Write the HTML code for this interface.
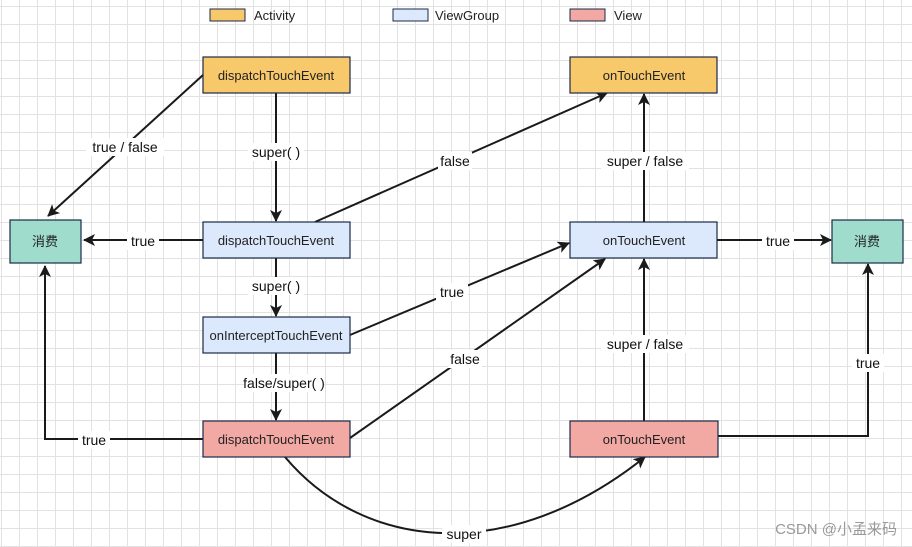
<!DOCTYPE html>
<html><head><meta charset="utf-8"><style>
html,body{margin:0;padding:0}
body{width:912px;height:547px;overflow:hidden;background-color:#fff;
background-image:linear-gradient(to right,#e2e2e2 1px,transparent 1px),linear-gradient(to bottom,#e2e2e2 1px,transparent 1px);
background-size:18px 18px;background-position:1px 6px;}
svg{position:absolute;left:0;top:0}
text{font-family:"Liberation Sans","Noto Sans CJK SC",sans-serif;}
</style></head><body>
<svg width="912" height="547" viewBox="0 0 912 547">
<defs><marker id="a" markerWidth="12" markerHeight="12" refX="11" refY="6" orient="auto" markerUnits="userSpaceOnUse"><path d="M0,0 L12,6 L0,12 L3,6 z" fill="#1a1a1a"/></marker></defs>
<g font-size="13" fill="#222">
<rect x="210" y="9" width="35" height="12" fill="#f8c96a" stroke="#1b2a4a"/><text x="254" y="20">Activity</text>
<rect x="393" y="9" width="35" height="12" fill="#dce8fb" stroke="#1b2a4a"/><text x="435" y="20">ViewGroup</text>
<rect x="570" y="9" width="35" height="12" fill="#f2a8a3" stroke="#1b2a4a"/><text x="614" y="20">View</text>
</g>
<g stroke="#1a1a1a" stroke-width="2" fill="none">
<line x1="203" y1="75" x2="48" y2="216" marker-end="url(#a)"/>
<line x1="276" y1="93" x2="276" y2="221" marker-end="url(#a)"/>
<line x1="203" y1="240" x2="84" y2="240" marker-end="url(#a)"/>
<line x1="276" y1="258" x2="276" y2="316" marker-end="url(#a)"/>
<line x1="276" y1="353" x2="276" y2="420" marker-end="url(#a)"/>
<polyline points="203,439 45,439 45,266" marker-end="url(#a)"/>
<line x1="315" y1="222" x2="607" y2="93" marker-end="url(#a)"/>
<line x1="350" y1="335" x2="569" y2="243" marker-end="url(#a)"/>
<line x1="350" y1="438" x2="605" y2="259" marker-end="url(#a)"/>
<line x1="644" y1="222" x2="644" y2="94" marker-end="url(#a)"/>
<line x1="717" y1="240" x2="831" y2="240" marker-end="url(#a)"/>
<line x1="644" y1="421" x2="644" y2="259" marker-end="url(#a)"/>
<polyline points="718,436 868,436 868,264" marker-end="url(#a)"/>
<path d="M285,457 C365,552 510,565 645,457" marker-end="url(#a)"/>
</g>
<g font-size="14" fill="#111" text-anchor="middle">
<g fill="#fff"><rect x="86" y="138" width="78" height="18"/><rect x="248" y="143" width="56" height="18"/><rect x="438" y="152" width="34" height="18"/><rect x="127" y="232" width="32" height="18"/><rect x="248" y="277" width="56" height="18"/><rect x="436" y="283" width="32" height="18"/><rect x="244" y="374" width="80" height="18"/><rect x="78" y="431" width="32" height="18"/><rect x="448" y="350" width="34" height="18"/><rect x="601" y="152" width="88" height="18"/><rect x="762" y="232" width="32" height="18"/><rect x="601" y="335" width="88" height="18"/><rect x="852" y="354" width="32" height="18"/><rect x="442" y="525" width="44" height="18"/></g>
<text x="125" y="152">true / false</text>
<text x="276" y="157">super( )</text>
<text x="455" y="166">false</text>
<text x="143" y="246">true</text>
<text x="276" y="291">super( )</text>
<text x="452" y="297">true</text>
<text x="284" y="388">false/super( )</text>
<text x="94" y="445">true</text>
<text x="465" y="364">false</text>
<text x="645" y="166">super / false</text>
<text x="778" y="246">true</text>
<text x="645" y="349">super / false</text>
<text x="868" y="368">true</text>
<text x="464" y="539">super</text>
</g>
<g stroke="#1b2a4a" stroke-width="1.2">
<rect x="203" y="57" width="147" height="36" fill="#f8c96a"/>
<rect x="570" y="57" width="147" height="36" fill="#f8c96a"/>
<rect x="10" y="220" width="71" height="43" fill="#9fdccc"/>
<rect x="832" y="220" width="71" height="43" fill="#9fdccc"/>
<rect x="203" y="222" width="147" height="36" fill="#dce8fb"/>
<rect x="203" y="317" width="147" height="36" fill="#dce8fb"/>
<rect x="570" y="222" width="147" height="36" fill="#dce8fb"/>
<rect x="203" y="421" width="147" height="36" fill="#f2a8a3"/>
<rect x="570" y="421" width="148" height="36" fill="#f2a8a3"/>
</g>
<g font-size="13" fill="#222" text-anchor="middle">
<text x="276" y="80">dispatchTouchEvent</text>
<text x="644" y="80">onTouchEvent</text>
<text x="45" y="246">消费</text>
<text x="867" y="246">消费</text>
<text x="276" y="245">dispatchTouchEvent</text>
<text x="276" y="340">onInterceptTouchEvent</text>
<text x="644" y="245">onTouchEvent</text>
<text x="276" y="444">dispatchTouchEvent</text>
<text x="644" y="444">onTouchEvent</text>
</g>
<text x="897" y="534" font-size="15" fill="#999" text-anchor="end">CSDN @小孟来码</text>
</svg>
</body></html>
